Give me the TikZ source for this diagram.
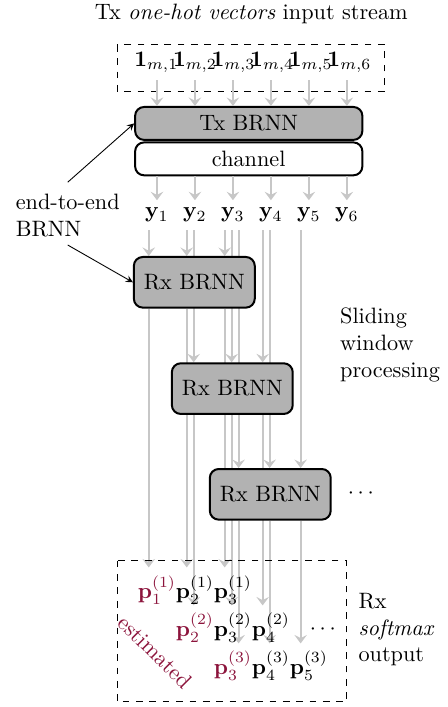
\documentclass[tikz,border=0pt]{standalone}
\usepackage{amsmath,amssymb}
\usepackage{xcolor}
\usepackage{tikz}
\usetikzlibrary{arrows,arrows.meta,backgrounds,positioning,calc}
\definecolor{estred}{RGB}{140,20,60}
\tikzset{
  flow/.style={-{Stealth[length=3.8pt,width=5.6pt,inset=1.4pt]}, line width=1pt, black!22},
  nnbox/.style={draw, line width=0.9pt, rounded corners=4pt, fill=black!30, minimum width=1.91cm, minimum height=0.8cm},
  txbox/.style={draw, line width=0.9pt, rounded corners=4pt, minimum width=3.59cm, minimum height=0.52cm}
}

\begin{document}
\begin{tikzpicture}
              \useasboundingbox (0,0) rectangle (7.077,-11.17);

              % input stream
              \node at (3.97,-0.22) (title) {Tx \emph{one-hot vectors} input stream};
              \draw[dashed] (1.85,-0.71) rectangle (6.08,-1.44);
              \node at (2.47,-0.98) (m1) {$\mathbf{1}_{m,1}$};
              \node at (3.08,-0.98) (m2) {$\mathbf{1}_{m,2}$};
              \node at (3.69,-0.98) (m3) {$\mathbf{1}_{m,3}$};
              \node at (4.30,-0.98) (m4) {$\mathbf{1}_{m,4}$};
              \node at (4.91,-0.98) (m5) {$\mathbf{1}_{m,5}$};
              \node at (5.52,-0.98) (m6) {$\mathbf{1}_{m,6}$};

              \node[txbox, fill=black!30] at (3.93,-1.95) (tx) {Tx BRNN};
              \node[txbox, fill=white] at (3.93,-2.51) (ch) {channel};

              \node at (2.48,-3.40) (y1) {$\mathbf{y}_1$};
              \node at (3.08,-3.40) (y2) {$\mathbf{y}_2$};
              \node at (3.68,-3.40) (y3) {$\mathbf{y}_3$};
              \node at (4.28,-3.40) (y4) {$\mathbf{y}_4$};
              \node at (4.88,-3.40) (y5) {$\mathbf{y}_5$};
              \node at (5.48,-3.40) (y6) {$\mathbf{y}_6$};

              \node[align=left] at (1.07,-3.41) (e2e) {end-to-end\\BRNN};

              % receiver windows
              \node[nnbox] at (3.07,-4.46) (rx1) {Rx BRNN};
              \node[nnbox] at (3.67,-6.14) (rx2) {Rx BRNN};
              \node[nnbox] at (4.27,-7.81) (rx3) {Rx BRNN};
              \node[align=left, anchor=west] at (5.25,-5.45) (slide) {Sliding\\window\\processing};
              \node at (5.73,-7.80) (dots1) {$\cdots$};

              % output
              \draw[dashed] (1.85,-8.86) rectangle (5.48,-11.09);
              \node at (2.48,-9.32) (p11) {$\textcolor{estred}{\mathbf{p}^{(1)}_1}$};
              \node at (3.08,-9.32) (p21) {$\mathbf{p}^{(1)}_2$};
              \node at (3.68,-9.32) (p31) {$\mathbf{p}^{(1)}_3$};
              \node at (3.08,-9.92) (p22) {$\textcolor{estred}{\mathbf{p}^{(2)}_2}$};
              \node at (3.68,-9.92) (p32) {$\mathbf{p}^{(2)}_3$};
              \node at (4.28,-9.92) (p42) {$\mathbf{p}^{(2)}_4$};
              \node at (3.68,-10.52) (p33) {$\textcolor{estred}{\mathbf{p}^{(3)}_3}$};
              \node at (4.28,-10.52) (p43) {$\mathbf{p}^{(3)}_4$};
              \node at (4.88,-10.52) (p53) {$\mathbf{p}^{(3)}_5$};
              \node at (5.13,-9.95) (dots2) {$\cdots$};
              \node[estred, rotate=-45] at (2.45,-10.30) (est) {estimated};
              \node[align=left, anchor=west] at (5.54,-9.95) (rxout) {Rx\\\emph{softmax}\\output};

              \draw[-stealth] ([yshift=2pt]e2e.north) -- (tx.west);
              \draw[-stealth] (e2e.south) -- (rx1.west);

              \draw[flow] (m1.south -| y1) -- (y1 |- tx.north);
              \draw[flow] (m2.south -| y2) -- (y2 |- tx.north);
              \draw[flow] (m3.south -| y3) -- (y3 |- tx.north);
              \draw[flow] (m4.south -| y4) -- (y4 |- tx.north);
              \draw[flow] (m5.south -| y5) -- (y5 |- tx.north);
              \draw[flow] (m6.south -| y6) -- (y6 |- tx.north);

              \draw[flow] (y1 |- ch.south) -- (y1.north);
              \draw[flow] (y2 |- ch.south) -- (y2.north);
              \draw[flow] (y3 |- ch.south) -- (y3.north);
              \draw[flow] (y4 |- ch.south) -- (y4.north);
              \draw[flow] (y5 |- ch.south) -- (y5.north);
              \draw[flow] (y6 |- ch.south) -- (y6.north);

              % line tops under each received symbol
              \coordinate (a1) at ([xshift=-0.13cm]y1.south);
              \coordinate (a2) at ([xshift=-0.13cm]y2.south);
              \coordinate (a3) at ([xshift=-0.13cm]y3.south);
              \coordinate (b2) at ([xshift=-0.02cm]y2.south);
              \coordinate (b3) at ([xshift=-0.02cm]y3.south);
              \coordinate (b4) at ([xshift=-0.13cm]y4.south);
              \coordinate (c3) at ([xshift=0.09cm]y3.south);
              \coordinate (c4) at ([xshift=-0.02cm]y4.south);
              \coordinate (c5) at ([xshift=-0.13cm]y5.south);

              \begin{scope}[on background layer]
              \draw[flow] (a1) -- (a1 |- rx1.north);
              \draw[flow] (a2) -- (a2 |- rx1.north);
              \draw[flow] (a3) -- (a3 |- rx1.north);
              \draw[flow] (b2) -- (b2 |- rx2.north);
              \draw[flow] (b3) -- (b3 |- rx2.north);
              \draw[flow] (b4) -- (b4 |- rx2.north);
              \draw[flow] (c3) -- (c3 |- rx3.north);
              \draw[flow] (c4) -- (c4 |- rx3.north);
              \draw[flow] (c5) -- (c5 |- rx3.north);

              \draw[flow] (a1 |- rx1.south) -- (a1 |- p11.north);
              \draw[flow] (a2 |- rx1.south) -- (a2 |- p21.north);
              \draw[flow] (a3 |- rx1.south) -- (a3 |- p31.north);
              \draw[flow] (b2 |- rx2.south) -- (b2 |- p22.north);
              \draw[flow] (b3 |- rx2.south) -- (b3 |- p32.north);
              \draw[flow] (b4 |- rx2.south) -- (b4 |- p42.north);
              \draw[flow] (c3 |- rx3.south) -- (c3 |- p33.north);
              \draw[flow] (c4 |- rx3.south) -- (c4 |- p43.north);
              \draw[flow] (c5 |- rx3.south) -- (c5 |- p53.north);
              \end{scope}
            \end{tikzpicture}
\end{document}
